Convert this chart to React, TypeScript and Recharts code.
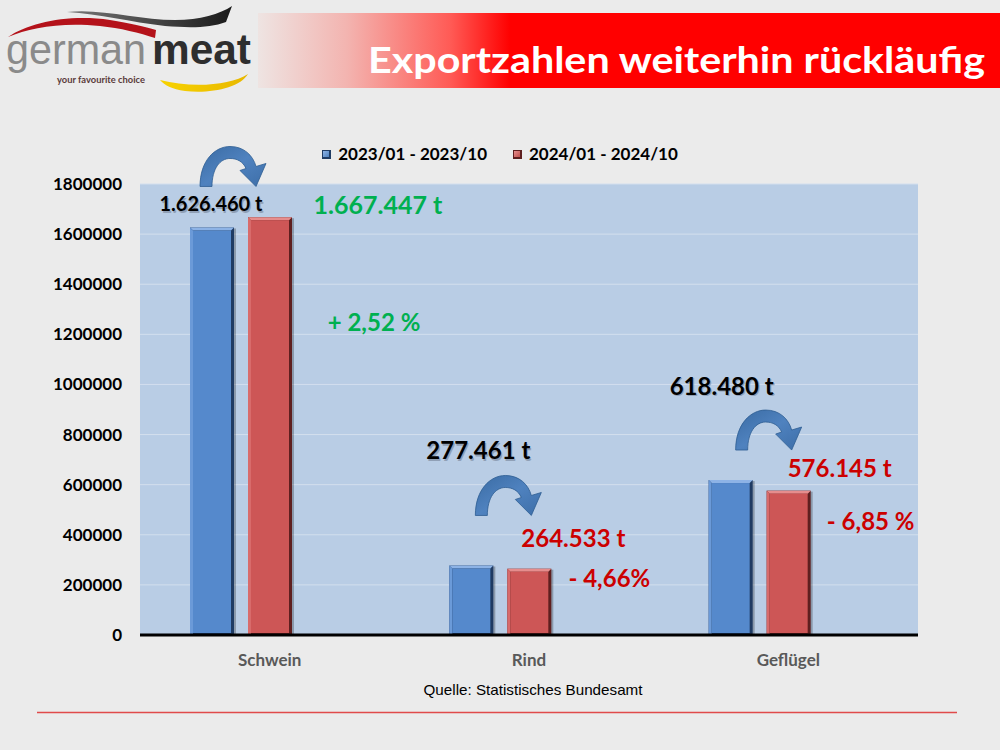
import React from 'react'
import { BarChart, Bar, XAxis, YAxis, CartesianGrid, Legend, LabelList } from 'recharts'

const categories = ['Schwein', 'Rind', 'Geflügel']
const exports2023 = [1626460, 277461, 618480]
const exports2024 = [1667447, 264533, 576145]
const changeLabels = ['+ 2,52 %', '- 4,66%', '- 6,85 %']
const seriesNames = ['2023/01 - 2023/10', '2024/01 - 2024/10']
const yTicks = [0, 200000, 400000, 600000, 800000, 1000000, 1200000, 1400000, 1600000, 1800000]

// annotation placement, relative to the bar's top-left corner
const prevLabelPos = [
  { dx: 21, dy: -16, size: 20 },
  { dx: 29, dy: -106, size: 24 },
  { dx: 13, dy: -85, size: 24 },
]
const arrowPos = [
  { dx: 10, dy: -81 },
  { dx: 26, dy: -90 },
  { dx: 27, dy: -70 },
]
const currLabelPos = [
  { dx: 130, dy: -3, size: 25 },
  { dx: 66, dy: -22, size: 24 },
  { dx: 73, dy: -14, size: 24 },
]
const changePos = [
  { dx: 126, dy: 114 },
  { dx: 102, dy: 18 },
  { dx: 104, dy: 39 },
]

const chartData = categories.map((category, i) => ({
  category,
  prev: exports2023[i],
  curr: exports2024[i],
  spacer: null,
}))

const FONT = 'Lato, "Open Sans", sans-serif'
const GREEN = '#00b050'
const RED = '#cc0000'

const blueTone = { main: '#5589cc', light: '#8db3e6', side: '#6b9ad8', dark: '#1f3b63' }
const redTone = { main: '#cd5656', light: '#e68d8d', side: '#d86b6b', dark: '#5e1f1f' }

const fmt = (n: number) => String(n).replace(/\B(?=(\d{3})+(?!\d))/g, '.') + ' t'

function BevelBar(props: any) {
  const { x, y, width, height, tone } = props
  if (!height || height <= 0) return null
  const b = 3
  const w = width
  const h = height
  return (
    <g>
      <rect x={x + 2} y={y + 1} width={w} height={h - 1} fill="rgba(0,0,0,0.25)" />
      <rect x={x} y={y} width={w} height={h} fill={tone.dark} />
      <polygon points={`${x},${y} ${x + w},${y} ${x + w - b},${y + b} ${x + b},${y + b}`} fill={tone.light} />
      <polygon points={`${x},${y} ${x + b},${y + b} ${x + b},${y + h} ${x},${y + h}`} fill={tone.side} />
      <rect x={x + b} y={y + b} width={w - 2 * b} height={h - b - 2} fill={tone.main} />
    </g>
  )
}

function CurvedArrow({ x, y }: { x: number; y: number }) {
  return (
    <path
      transform={`translate(${x},${y})`}
      d="M0,40 C0,14 15,0 30,0 C44,0 53,9 56,20 L66,17 L56,40 L40,24 L46,22 C43,15 37,12 30,12 C20,12 12,22 12,40 Z"
      fill="url(#arrowGrad)"
      stroke="#2d5d92"
      strokeWidth={0.8}
    />
  )
}

function ShadowText({ x, y, size, children }: any) {
  return (
    <g fontFamily={FONT} fontWeight={700} fontSize={size} textAnchor="middle">
      <text x={x + 1.2} y={y + 1.2} fill="#7f8ea3" opacity={0.7}>{children}</text>
      <text x={x} y={y} fill="#000">{children}</text>
    </g>
  )
}

function PrevAnnotation(props: any) {
  const i = props.index
  const x = Number(props.x)
  const y = Number(props.y)
  const lp = prevLabelPos[i]
  const ap = arrowPos[i]
  return (
    <g>
      <CurvedArrow x={x + ap.dx} y={y + ap.dy} />
      <ShadowText x={x + lp.dx} y={y + lp.dy} size={lp.size}>{fmt(exports2023[i])}</ShadowText>
    </g>
  )
}

function CurrAnnotation(props: any) {
  const i = props.index
  const x = Number(props.x)
  const y = Number(props.y)
  const lp = currLabelPos[i]
  const cp = changePos[i]
  const color = exports2024[i] >= exports2023[i] ? GREEN : RED
  return (
    <g fontFamily={FONT} fontWeight={700} textAnchor="middle" fill={color}>
      <text x={x + lp.dx} y={y + lp.dy} fontSize={lp.size}>{fmt(exports2024[i])}</text>
      <text x={x + cp.dx} y={y + cp.dy} fontSize={24}>{changeLabels[i]}</text>
    </g>
  )
}

function LegendContent() {
  const swatches = ['url(#legBlue)', 'url(#legRed)']
  return (
    <div style={{ display: 'flex', justifyContent: 'center', gap: 26, fontFamily: FONT, fontWeight: 700, fontSize: 17, lineHeight: '22px', color: '#000' }}>
      {seriesNames.map((name, i) => (
        <div key={name} style={{ display: 'flex', alignItems: 'center' }}>
          <svg width={9} height={9} style={{ marginRight: 7 }}>
            <rect width={9} height={9} fill={i === 0 ? blueTone.dark : redTone.dark} />
            <rect x={1} y={1} width={6} height={6} fill={swatches[i]} />
          </svg>
          <span>{name}</span>
        </div>
      ))}
    </div>
  )
}

function Logo() {
  return (
    <g>
      <defs>
        <linearGradient id="darkSwoosh" x1="0" x2="1" y1="0" y2="0">
          <stop offset="0" stopColor="#777" />
          <stop offset="1" stopColor="#1a1a1a" />
        </linearGradient>
        <linearGradient id="yellowSwoosh" x1="0" x2="1" y1="0" y2="0">
          <stop offset="0" stopColor="#f7d200" />
          <stop offset="1" stopColor="#e8b800" />
        </linearGradient>
      </defs>
      <path d="M8,37 C30,22 70,14 110,20 C130,23 145,27 156,30 L155,38 C140,33 120,28 100,26 C60,22 30,28 8,37 Z" fill="#b4121a" />
      <path d="M67,12 C100,8 140,20 175,20 C200,20 220,14 232,6 L226,22 C210,28 190,28 165,26 C130,22 100,14 67,12 Z" fill="url(#darkSwoosh)" />
      <path d="M160,80 C190,88 230,86 248,74 C240,88 210,94 185,91 C172,89 164,85 160,80 Z" fill="url(#yellowSwoosh)" />
      <text x={6} y={64} fontFamily='"Liberation Sans", Arial, sans-serif' fontSize={42} fill="#8a8a8a" textLength={140} lengthAdjust="spacingAndGlyphs">german</text>
      <text x={152} y={64} fontFamily='"Liberation Sans", Arial, sans-serif' fontWeight={700} fontSize={42} fill="#2e2e2e" textLength={99} lengthAdjust="spacingAndGlyphs">meat</text>
      <text x={57} y={83} fontFamily={FONT} fontWeight={700} fontSize={9.5} fill="#5a3a3a" textLength={88} lengthAdjust="spacingAndGlyphs">your favourite choice</text>
    </g>
  )
}

export default function App() {
  return (
    <div style={{ position: 'relative', width: 1000, height: 750, background: '#ebebeb', overflow: 'hidden' }}>
      <style>{'body{margin:0}'}</style>
      <svg width={1000} height={750} style={{ position: 'absolute', left: 0, top: 0 }}>
        <defs>
          <linearGradient id="headerGrad" x1="258" x2="1000" y1="0" y2="0" gradientUnits="userSpaceOnUse">
            <stop offset="0" stopColor="#eee4e2" />
            <stop offset="0.12" stopColor="#f3b4b0" />
            <stop offset="0.26" stopColor="#ff5a55" />
            <stop offset="0.34" stopColor="#ff0000" />
            <stop offset="1" stopColor="#ff0000" />
          </linearGradient>
        </defs>
        <rect x={258} y={13} width={742} height={75} fill="url(#headerGrad)" />
        <text x={985} y={73} textAnchor="end" fontFamily={FONT} fontWeight={700} fontSize={37} fill="#fff" textLength={617} lengthAdjust="spacingAndGlyphs">
          Exportzahlen weiterhin rückläufig
        </text>
        <Logo />
        <text x={533} y={695} textAnchor="middle" fontFamily='"Liberation Sans", Arial, sans-serif' fontSize={15} fill="#000" textLength={219} lengthAdjust="spacingAndGlyphs">
          Quelle: Statistisches Bundesamt
        </text>
        <line x1={37} x2={957} y1={712.5} y2={712.5} stroke="#e04a4a" strokeWidth={1.5} />
      </svg>
      <div style={{ position: 'absolute', left: 0, top: 0 }}>
        <BarChart
          width={1000}
          height={750}
          data={chartData}
          margin={{ top: 184, right: 82, bottom: 75, left: 40 }}
          barSize={44}
          barGap={14}
        >
          <defs>
            <linearGradient id="arrowGrad" x1="0" x2="1" y1="0" y2="1">
              <stop offset="0" stopColor="#3a6ba3" />
              <stop offset="0.5" stopColor="#4f82bf" />
              <stop offset="1" stopColor="#3d6ea8" />
            </linearGradient>
            <linearGradient id="legBlue" x1="0" x2="1" y1="0" y2="1">
              <stop offset="0" stopColor="#8db3e6" />
              <stop offset="1" stopColor="#4f81bd" />
            </linearGradient>
            <linearGradient id="legRed" x1="0" x2="1" y1="0" y2="1">
              <stop offset="0" stopColor="#e68d8d" />
              <stop offset="1" stopColor="#c0504d" />
            </linearGradient>
          </defs>
          <CartesianGrid vertical={false} fill="#b9cde5" fillOpacity={1} stroke="#d3dfee" strokeWidth={1} />
          <XAxis
            dataKey="category"
            height={40}
            axisLine={{ stroke: '#000', strokeWidth: 3 }}
            tickLine={false}
            tickMargin={13}
            tick={{ fill: '#595959', fontSize: 17, fontWeight: 700, fontFamily: FONT }}
          />
          <YAxis
            width={100}
            domain={[0, 1800000]}
            ticks={yTicks}
            interval={0}
            axisLine={false}
            tickLine={false}
            tickSize={6}
            tickMargin={12}
            tick={{ fill: '#000', fontSize: 17, fontWeight: 700, fontFamily: FONT }}
          />
          <Legend
            layout="horizontal"
            verticalAlign="middle"
            align="center"
            wrapperStyle={{ top: 143, left: 0, width: 1000 }}
            content={() => <LegendContent />}
          />
          <Bar dataKey="prev" name={seriesNames[0]} isAnimationActive={false} shape={(p: any) => <BevelBar {...p} tone={blueTone} />}>
            <LabelList dataKey="prev" content={(p: any) => <PrevAnnotation {...p} />} />
          </Bar>
          <Bar dataKey="curr" name={seriesNames[1]} isAnimationActive={false} shape={(p: any) => <BevelBar {...p} tone={redTone} />}>
            <LabelList dataKey="curr" content={(p: any) => <CurrAnnotation {...p} />} />
          </Bar>
          <Bar dataKey="spacer" legendType="none" isAnimationActive={false} fill="none" />
        </BarChart>
      </div>
    </div>
  )
}
